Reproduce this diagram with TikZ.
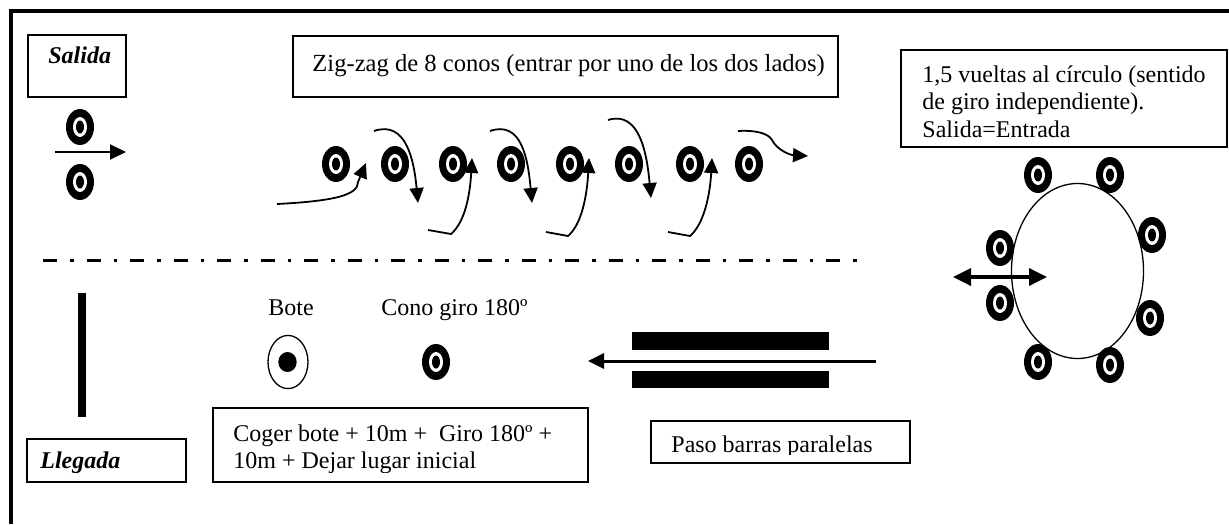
\documentclass[tikz,border=0pt]{standalone}
\usepackage{fontspec}
\setmainfont{Liberation Serif}
\usetikzlibrary{arrows.meta}
\tikzset{
  conepic/.pic={
    \fill[black] (0,0) ellipse [x radius=7pt, y radius=9pt];
    \fill[white] (0,0) ellipse [x radius=3.5pt, y radius=5pt];
    \fill[black] (0,0) ellipse [x radius=2pt, y radius=3.25pt];
  },
  txt/.style={inner sep=0pt, font=\fontsize{12pt}{14pt}\selectfont},
  lbl/.style={inner sep=0pt, font=\fontsize{12pt}{14pt}\selectfont\bfseries\itshape},
  box/.style={draw, line width=0.75pt},
  zz/.style={line width=0.9pt, -{Triangle[length=7.5pt,width=7pt]}},
  thickarrow/.style={line width=1.5pt, -{Triangle[length=8pt,width=7.5pt]}},
}
\begin{document}
\begin{tikzpicture}[x=0.5pt,y=-0.5pt]
\useasboundingbox (0,0) rectangle (1229,524);
% frame
\draw[line width=2pt] (11,524) -- (11,11) -- (1229,11);

% ---- Salida
\draw[box] (28,35) rectangle (126,97);
\node[lbl, anchor=base west] (salida) at (48,64) {Salida};
\pic at (80,127) {conepic};
\pic at (80,182) {conepic};
\coordinate (sa) at (55,152);
\coordinate (sb) at (126,152);
\draw[line width=1pt, -{Triangle[length=8pt,width=7.5pt]}] (sa) -- (sb);

% ---- Zig-zag
\draw[box] (293,36) rectangle (838,97);
\node[txt, anchor=base west, font=\fontsize{12.3pt}{14pt}\selectfont] (zigtxt) at (312,72) {Zig-zag de 8 conos (entrar por uno de los dos lados)};
\foreach \x in {336,395,453,511,570,629,690,749} \pic at (\x,164) {conepic};
% entry
\draw[zz] (277,204) .. controls (335,201) and (358,195) .. (358,182) -- (366,163);
% down arrows
\draw[zz] (374,131) .. controls (406,120) and (414,160) .. (418,203);
\draw[zz] (490,131) .. controls (522,120) and (528,160) .. (532,203);
\draw[zz] (608,120) .. controls (640,110) and (647,155) .. (651,198);
% up arrows
\draw[zz] (428,230) -- (451,234) .. controls (465,222) and (470,195) .. (472,158);
\draw[zz] (546,232) -- (568,236) .. controls (582,224) and (587,195) .. (589,158);
\draw[zz] (668,232) -- (690,236) .. controls (704,224) and (710,195) .. (712,158);
% exit
\draw[zz] (738,131) .. controls (755,130) and (768,133) .. (772,140) .. controls (777,150) and (790,155) .. (808,156);

% ---- dash-dot line
\draw[line width=1.5pt, dash pattern=on 7pt off 6.5pt on 1.75pt off 6.5pt] (43,260) -- (866,260);

% ---- circle
\draw[box] (901,50) rectangle (1227,147);
\begin{scope}
\clip (903,52) rectangle (1225,145);
\node[txt, anchor=base west] (c1) at (922,83) {1,5 vueltas al círculo (sentido};
\node[txt, anchor=base west] (c2) at (922,110) {de giro independiente).};
\node[txt, anchor=base west] (c3) at (922,137) {Salida=Entrada};
\end{scope}
\draw[line width=0.65pt] (1077.5,271) ellipse [x radius=33pt, y radius=43.75pt];
\pic at (1038,175) {conepic};
\pic at (1110,175) {conepic};
\pic at (1152,235) {conepic};
\pic at (1150,318) {conepic};
\pic at (1110,365) {conepic};
\pic at (1038,362) {conepic};
\pic at (1000,248) {conepic};
\pic at (1000,303) {conepic};
\coordinate (da) at (953,277);
\coordinate (db) at (1047,277);
\draw[line width=1.75pt, {Triangle[length=9pt,width=8.5pt]}-{Triangle[length=9pt,width=8.5pt]}] (da) -- (db);

% ---- Llegada
\fill (78,293) rectangle (86,417);
\draw[box] (27,439) rectangle (186,482);
\node[lbl, anchor=base west] (llegada) at (40,468) {Llegada};

% ---- Bote and cone
\node[txt, anchor=base] (bote) at (291,315) {Bote};
\draw[line width=0.65pt, fill=white] (288,362) ellipse [x radius=10pt, y radius=13.3pt];
\fill (287.5,362) ellipse [x radius=4.6pt, y radius=5pt];
\node[txt, anchor=base west] (cono) at (381,315) {Cono giro 180º};
\pic at (436,362) {conepic};

\draw[box] (213,408) rectangle (588,482);
\begin{scope}
\clip (215,410) rectangle (586,472);
\node[txt, anchor=base west] (g1) at (233,441) {Coger bote + 10m +\ \ Giro 180º +};
\node[txt, anchor=base west] (g2) at (233,468) {10m + Dejar lugar inicial};
\end{scope}

% ---- bars
\fill (632,332) rectangle (829,350);
\fill (632,371) rectangle (829,388);
\coordinate (pa) at (876,361);
\coordinate (pb) at (588,361);
\draw[thickarrow] (pa) -- (pb);
\draw[box] (651,421) rectangle (910,463);
\begin{scope}
\clip (653,423) rectangle (908,454);
\node[txt, anchor=base west] (paso) at (671,452) {Paso barras paralelas};
\end{scope}
\end{tikzpicture}
\end{document}
